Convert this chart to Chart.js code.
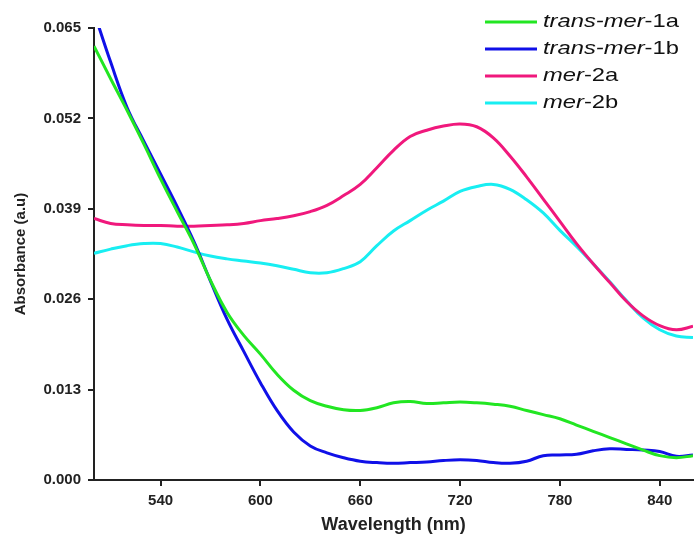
<!DOCTYPE html>
<html><head><meta charset="utf-8">
<script src="https://cdn.jsdelivr.net/npm/chart.js@4/dist/chart.umd.min.js"></script>
<style>html,body{margin:0;padding:0;background:#fff}canvas{display:block}</style>
</head><body>
<canvas id="c" width="694" height="536"></canvas>
<script>
const wavelengths = [500,510,520,530,540,550,560,570,580,590,600,610,620,630,640,650,660,670,680,690,700,710,720,730,740,750,760,770,780,790,800,810,820,830,840,850,860];
const trans1a = [0.0624,0.0577,0.0531,0.0483,0.0433,0.0386,0.0340,0.0287,0.0241,0.0208,0.0181,0.0152,0.0129,0.0114,0.0106,0.0101,0.0100,0.0104,0.0111,0.0113,0.0110,0.0111,0.0112,0.0111,0.0109,0.0106,0.0100,0.0094,0.0088,0.0079,0.0070,0.0061,0.0052,0.0043,0.0035,0.0032,0.0035];
const trans1b = [0.0673,0.0601,0.0535,0.0487,0.0440,0.0393,0.0343,0.0286,0.0231,0.0185,0.0140,0.0100,0.0069,0.0049,0.0039,0.0032,0.0027,0.0025,0.0024,0.0025,0.0026,0.0028,0.0029,0.0028,0.0025,0.0024,0.0027,0.0035,0.0036,0.0037,0.0042,0.0045,0.0044,0.0043,0.0041,0.0034,0.0036];
const mer2a = [0.0376,0.0369,0.0367,0.0366,0.0366,0.0365,0.0365,0.0366,0.0367,0.0369,0.0373,0.0376,0.0380,0.0386,0.0395,0.0409,0.0425,0.0449,0.0474,0.0494,0.0503,0.0509,0.0512,0.0508,0.0492,0.0466,0.0436,0.0404,0.0372,0.0340,0.0311,0.0284,0.0257,0.0236,0.0222,0.0216,0.0221];
const mer2b = [0.0326,0.0332,0.0337,0.0340,0.0340,0.0335,0.0328,0.0322,0.0318,0.0315,0.0312,0.0308,0.0303,0.0298,0.0298,0.0304,0.0314,0.0337,0.0358,0.0373,0.0388,0.0401,0.0415,0.0422,0.0425,0.0418,0.0403,0.0384,0.0359,0.0336,0.0311,0.0285,0.0258,0.0233,0.0216,0.0207,0.0205];
const xTicks = [540,600,660,720,780,840];
const yTicks = [0,0.013,0.026,0.039,0.052,0.065];
const legendItalic = ['trans-mer','trans-mer','mer','mer'];
const legendPlain = ['-1a','-1b','-2a','-2b'];
const colors = ['#22E622','#1010E8','#F0187C','#18EEF2'];

const seriesList = [trans1a, trans1b, mer2a, mer2b];
const FONT = '"Liberation Sans", Arial, sans-serif';

const datasets = seriesList.map((vals, i) => ({
  label: legendItalic[i] + legendPlain[i],
  data: wavelengths.map((w, k) => ({x: w, y: vals[k]})),
  borderColor: colors[i],
  borderWidth: 3,
  pointRadius: 0,
  tension: 0.4,
  fill: false
}));

const legendPlugin = {
  id: 'customLegend',
  afterDraw(chart) {
    const ctx = chart.ctx;
    ctx.save();
    const sx = 1.25;
    datasets.forEach((ds, i) => {
      const y = 22 + i * 27;
      ctx.strokeStyle = ds.borderColor;
      ctx.lineWidth = 3;
      ctx.beginPath(); ctx.moveTo(485, y); ctx.lineTo(537, y); ctx.stroke();
      ctx.save();
      ctx.translate(543, y);
      ctx.scale(sx, 1);
      ctx.fillStyle = '#111';
      ctx.textBaseline = 'middle';
      ctx.textAlign = 'left';
      ctx.font = 'italic 19px ' + FONT;
      ctx.fillText(legendItalic[i], 0, 0);
      const w = ctx.measureText(legendItalic[i]).width;
      ctx.font = '19px ' + FONT;
      ctx.fillText(legendPlain[i], w, 0);
      ctx.restore();
    });
    ctx.restore();
  }
};

new Chart(document.getElementById('c'), {
  type: 'line',
  data: { datasets },
  options: {
    responsive: false,
    animation: false,
    layout: { padding: { top: 28, right: 1, left: 0, bottom: 0 } },
    plugins: { legend: { display: false }, tooltip: { enabled: false } },
    scales: {
      x: {
        type: 'linear', min: 500, max: 860,
        afterBuildTicks: s => { s.ticks = xTicks.map(v => ({ value: v })); },
        afterFit: s => { s.height = 56; },
        grid: { display: true, drawOnChartArea: false, drawTicks: true, tickLength: 6, color: '#222', lineWidth: 2 },
        border: { display: true, color: '#222', width: 2 },
        ticks: { color: '#222', font: { family: FONT, size: 15, weight: 'bold' }, padding: 6, maxRotation: 0 },
        title: { display: true, text: 'Wavelength (nm)', color: '#222', font: { family: FONT, size: 18, weight: 'bold' }, padding: { top: 2, bottom: 0 } }
      },
      y: {
        type: 'linear', min: 0, max: 0.065,
        afterBuildTicks: s => { s.ticks = yTicks.map(v => ({ value: v })); },
        afterFit: s => { s.width = 94; },
        grid: { display: true, drawOnChartArea: false, drawTicks: true, tickLength: 6, color: '#222', lineWidth: 2 },
        border: { display: true, color: '#222', width: 2 },
        ticks: { color: '#222', font: { family: FONT, size: 15, weight: 'bold' }, padding: 7, callback: v => Number(v).toFixed(3) },
        title: { display: true, text: 'Absorbance (a.u)', color: '#222', font: { family: FONT, size: 15, weight: 'bold' }, padding: { top: 12, bottom: 0 } }
      }
    }
  },
  plugins: [legendPlugin]
});
</script>
</body></html>
